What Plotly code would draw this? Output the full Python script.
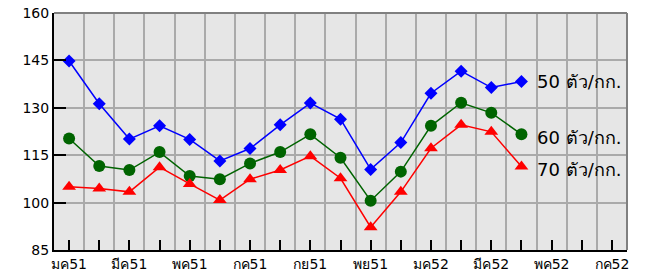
import plotly.graph_objects as go

months = list(range(16))  # Jan 51 .. Apr 52
size50 = [144.8, 131.3, 120.1, 124.3, 120.0, 113.2, 117.1, 124.6, 131.5, 126.4,
          110.5, 119.0, 134.6, 141.6, 136.4, 138.3]
size60 = [120.3, 111.6, 110.3, 116.0, 108.4, 107.4, 112.4, 116.0, 121.6, 114.2,
          100.6, 109.8, 124.3, 131.6, 128.4, 121.6]
size70 = [105.0, 104.5, 103.4, 111.2, 105.9, 100.8, 107.4, 110.3, 114.7, 107.7,
          92.2, 103.4, 117.2, 124.6, 122.4, 111.4]
series_names = ["50 ตัว/กก.", "60 ตัว/กก.", "70 ตัว/กก."]
tick_labels = ["มค51", "มีค51", "พค51", "กค51", "กย51", "พย51", "มค52", "มีค52", "พค52", "กค52"]

tick_vals = list(range(19))
tick_text = [tick_labels[i // 2] if i % 2 == 0 else "" for i in tick_vals]

fig = go.Figure()
styles = [
    (size50, "#0000FF", "diamond", 10),
    (size60, "#006400", "circle", 12),
    (size70, "#FF0000", "triangle-up", 12),
]
for (vals, color, sym, ms), name in zip(styles, series_names):
    fig.add_trace(go.Scatter(
        x=months, y=vals, mode="lines+markers", name=name,
        line=dict(color=color, width=1.5),
        marker=dict(symbol=sym, size=ms, color=color),
        showlegend=False,
    ))

label_shift = [0, -3, -3]
for (vals, color, sym, ms), name, ys in zip(styles, series_names, label_shift):
    fig.add_annotation(x=months[-1] + 0.45, y=vals[-1], text=name, showarrow=False,
                       xanchor="left", yanchor="middle", yshift=ys,
                       font=dict(family="DejaVu Sans", size=18, color="black"))

# top and right border (gray)
fig.add_shape(type="line", xref="paper", yref="paper", x0=0, x1=1, y0=1, y1=1,
              line=dict(color="#808080", width=2))
fig.add_shape(type="line", xref="paper", yref="paper", x0=1, x1=1, y0=0, y1=1,
              line=dict(color="#808080", width=2))

fig.update_layout(
    width=639, height=263,
    margin=dict(l=46, r=20, t=5, b=21, autoexpand=False),
    paper_bgcolor="white", plot_bgcolor="#E6E6E6",
    font=dict(family="DejaVu Sans", size=14, color="black"),
    xaxis=dict(
        range=[-0.5, 18.5], tickmode="array", tickvals=tick_vals, ticktext=tick_text,
        ticks="inside", ticklen=10, tickwidth=1.5, tickcolor="black",
        showgrid=False, zeroline=False, automargin=False, ticklabeloverflow="allow",
        showline=True, linecolor="black", linewidth=2,
        minor=dict(tickmode="linear", tick0=-0.5, dtick=1, showgrid=True,
                   gridcolor="#AAAAAA", gridwidth=1.5, ticks=""),
        tickfont=dict(size=14),
    ),
    yaxis=dict(
        range=[85, 160], tickmode="linear", tick0=85, dtick=15,
        ticks="inside", ticklen=12, tickwidth=2, tickcolor="black",
        showgrid=True, gridcolor="#AAAAAA", gridwidth=1.5, zeroline=False,
        showline=True, linecolor="black", linewidth=2, automargin=False,
        ticklabeloverflow="allow",
        tickfont=dict(size=14),
    ),
)

fig.write_html("out.html")
